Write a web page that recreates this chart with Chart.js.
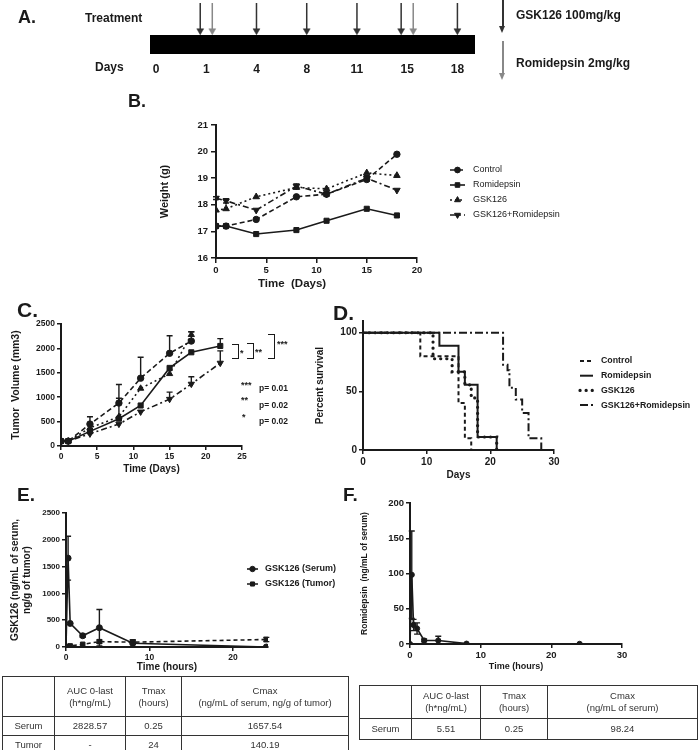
<!DOCTYPE html>
<html>
<head>
<meta charset="utf-8">
<script src="https://cdn.jsdelivr.net/npm/chart.js@4.4.1/dist/chart.umd.min.js"></script>
<style>
  body { margin: 0; background: #fff; }
  #page { position: relative; width: 700px; height: 750px; overflow: hidden; background: #fff;
          font-family: 'Liberation Sans', Arial, sans-serif; color: #1a1a1a; }
  canvas { position: absolute; left: 0; top: 0; }
  .t { position: absolute; font-weight: bold; white-space: pre; line-height: 1; }
  .br { position: absolute; border: 1.5px solid #1a1a1a; border-left: none; }
  .stem { position: absolute; width: 1.6px; }
  .head { position: absolute; width: 0; height: 0; border-left: 3.5px solid transparent; border-right: 3.5px solid transparent; }
  table { position: absolute; border-collapse: collapse; table-layout: fixed; font-size: 9.5px; color: #333; }
  td { border: 1px solid #333; text-align: center; padding: 0; line-height: 12px; }
</style>
</head>
<body>
<div id="page">
  <canvas id="cA" width="700" height="750"></canvas>
  <canvas id="cB" width="700" height="750"></canvas>
  <canvas id="cC" width="700" height="750"></canvas>
  <canvas id="cD" width="700" height="750"></canvas>
  <canvas id="cE" width="700" height="750"></canvas>
  <canvas id="cF" width="700" height="750"></canvas>

  <!-- panel A text -->
  <div class="t" style="left:18px;top:8px;font-size:18px">A.</div>
  <div class="t" style="left:85px;top:12px;font-size:12px">Treatment</div>
  <div class="t" style="left:95px;top:61px;font-size:12px">Days</div>
  <div class="stem" style="left:502px;top:0;height:27px;background:#333"></div>
  <div class="head" style="left:499px;top:26px;border-top:7px solid #333"></div>
  <div class="t" style="left:516px;top:9px;font-size:12px">GSK126 100mg/kg</div>
  <div class="stem" style="left:502px;top:41px;height:33px;background:#888"></div>
  <div class="head" style="left:499px;top:73px;border-top:7px solid #888"></div>
  <div class="t" style="left:516px;top:57px;font-size:12px">Romidepsin 2mg/kg</div>

  <!-- panel letters -->
  <div class="t" style="left:128px;top:92px;font-size:18px">B.</div>
  <div class="t" style="left:258px;top:278px;font-size:11.5px">Time  (Days)</div>
  <div class="t" style="left:17px;top:299px;font-size:21px">C.</div>
  <div class="t" style="left:333px;top:302px;font-size:21px">D.</div>
  <div class="t" style="left:17px;top:485px;font-size:19px">E.</div>
  <div class="t" style="left:343px;top:485px;font-size:19px">F.</div>

  <!-- panel C significance -->
  <div class="br" style="left:232px;top:344px;width:6px;height:13px"></div>
  <div class="t" style="left:240px;top:349px;font-size:9px">*</div>
  <div class="br" style="left:247px;top:343px;width:6px;height:14px"></div>
  <div class="t" style="left:255px;top:348px;font-size:9px">**</div>
  <div class="br" style="left:268px;top:334px;width:6px;height:23px"></div>
  <div class="t" style="left:277px;top:340px;font-size:9px">***</div>
  <div class="t" style="left:241px;top:381px;font-size:9px">***</div>
  <div class="t" style="left:259px;top:384px;font-size:8.5px">p= 0.01</div>
  <div class="t" style="left:241px;top:396px;font-size:9px">**</div>
  <div class="t" style="left:259px;top:401px;font-size:8.5px">p= 0.02</div>
  <div class="t" style="left:242px;top:413px;font-size:9px">*</div>
  <div class="t" style="left:259px;top:417px;font-size:8.5px">p= 0.02</div>

  <!-- PK tables -->
  <table style="left:2px;top:676px;width:346px">
    <col style="width:52px"><col style="width:71px"><col style="width:56px"><col style="width:167px">
    <tr style="height:40px"><td></td><td>AUC  0-last<br>(h*ng/mL)</td><td>Tmax<br>(hours)</td><td>Cmax<br>(ng/mL of serum, ng/g of tumor)</td></tr>
    <tr style="height:19px"><td>Serum</td><td>2828.57</td><td>0.25</td><td>1657.54</td></tr>
    <tr style="height:19px"><td>Tumor</td><td>-</td><td>24</td><td>140.19</td></tr>
  </table>
  <table style="left:359px;top:685px;width:338px">
    <col style="width:52px"><col style="width:69px"><col style="width:67px"><col style="width:150px">
    <tr style="height:33px"><td></td><td>AUC  0-last<br>(h*ng/mL)</td><td>Tmax<br>(hours)</td><td>Cmax<br>(ng/mL of serum)</td></tr>
    <tr style="height:21px"><td>Serum</td><td>5.51</td><td>0.25</td><td>98.24</td></tr>
  </table>
</div>

<script>
// ---------- data ----------
// A: dosing schedule
const schedDays = ['0', '1', '4', '8', '11', '15', '18'];
const gskDoseDays = ['1', '4', '8', '11', '15', '18'];
const romiDoseDays = ['1', '15'];

// B: body weight (g)
const wDays = [0, 1, 4, 8, 11, 15, 18];
const wControl = [17.2, 17.2, 17.45, 18.3, 18.4, 18.95, 19.9];
const wRomi = [17.2, 17.2, 16.9, 17.05, 17.4, 17.85, 17.6];
const wGsk = [17.8, 17.85, 18.3, 18.65, 18.6, 19.2, 19.1];
const wCombo = [18.25, 18.15, 17.8, 18.7, 18.4, 19.0, 18.55];
const wComboErr = [0.05, 0.08, 0, 0.08, 0.08, 0.1, 0];

// C: tumour volume (mm3)
const tDays = [0, 1, 4, 8, 11, 15, 18, 22];
const tControl = [100, 100, 450, 880, 1390, 1900, 2150];
const tControlErr = [0, 0, 150, 380, 430, 360, 190];
const tRomi = [100, 100, 300, 560, 830, 1600, 1920, 2050];
const tRomiErr = [0, 0, 50, 420, 0, 0, 0, 150];
const tGsk = [100, 100, 370, 600, 1180, 1480, 2280];
const tGskErr = [0, 0, 80, 0, 0, 0, 60];
const tCombo = [100, 100, 250, 450, 700, 960, 1270, 1700];
const tComboErr = [0, 0, 0, 0, 0, 145, 150, 250];

// D: percent survival (Kaplan-Meier steps)
const sControlDays = [0, 9, 15, 16, 17];
const sControl = [100, 80, 40, 10, 0];
const sRomiDays = [0, 12, 15, 16, 18, 21];
const sRomi = [100, 88.9, 66.7, 55.6, 11.1, 0];
const sGskDays = [0, 11, 14, 16, 17, 18, 21];
const sGsk = [100, 77.8, 66.7, 55.6, 44.4, 11.1, 0];
const sComboDays = [0, 22, 22.7, 23, 24, 25, 26, 28];
const sCombo = [100, 72.7, 68, 53, 43, 31.6, 10, 0];

// E: GSK126 PK
const eHours = [0, 0.25, 0.5, 2, 4, 8, 24];
const eSerum = [0, 1657.54, 440, 210, 360, 70, 0];
const eSerumErr = [0, 410, 0, 30, 340, 60, 0];
const eTumor = [0, 10, 20, 50, 100, 90, 140.19];
const eTumorErr = [0, 0, 0, 0, 30, 40, 40];

// F: romidepsin PK
const fHours = [0, 0.25, 0.5, 1, 2, 4, 8, 24];
const fRomi = [0, 98.24, 27, 22, 5, 5, 0.5, 0.2];
const fRomiErr = [0, 62, 8, 8, 2, 6, 0, 0];

// ---------- helpers ----------
const INK = '#1a1a1a';
Chart.defaults.font.family = "'Liberation Sans', Arial, sans-serif";
Chart.defaults.color = INK;

const xy = (xs, ys) => ys.map((y, i) => ({x: xs[i], y: y}));

// error bars drawn through the dataset's own y scale
const errorBars = {
  id: 'errorBars',
  afterDatasetsDraw(chart) {
    const ctx = chart.ctx;
    chart.data.datasets.forEach((d, i) => {
      if (!d.errors) return;
      const meta = chart.getDatasetMeta(i);
      const ys = chart.scales[meta.yAxisID];
      ctx.save();
      ctx.strokeStyle = INK;
      ctx.lineWidth = 1.4;
      ctx.setLineDash([]);
      meta.data.forEach((pt, j) => {
        const e = d.errors[j];
        if (!e) return;
        const v = d.data[j].y;
        const top = ys.getPixelForValue(v + e);
        const bot = d.both ? ys.getPixelForValue(Math.max(v - e, ys.min)) : pt.y;
        ctx.beginPath();
        ctx.moveTo(pt.x, top); ctx.lineTo(pt.x, bot);
        ctx.moveTo(pt.x - 3, top); ctx.lineTo(pt.x + 3, top);
        if (d.both) { ctx.moveTo(pt.x - 3, bot); ctx.lineTo(pt.x + 3, bot); }
        ctx.stroke();
      });
      ctx.restore();
    });
  }
};

// legend: short line sample in the dataset's dash, its marker, then the label
const lineLegend = {
  id: 'lineLegend',
  afterDraw(chart, args, o) {
    if (!o || !o.x) return;
    const ctx = chart.ctx;
    chart.data.datasets.forEach((d, i) => {
      const y = o.y + i * o.gap;
      ctx.save();
      ctx.strokeStyle = INK;
      ctx.lineWidth = d.borderWidth;
      ctx.lineCap = d.borderCapStyle || 'butt';
      ctx.setLineDash(d.borderDash || []);
      ctx.beginPath(); ctx.moveTo(o.x, y); ctx.lineTo(o.x + o.len, y); ctx.stroke();
      ctx.setLineDash([]);
      if (d.pointRadius) {
        ctx.fillStyle = INK;
        ctx.lineWidth = 1;
        Chart.helpers.drawPoint(ctx, {pointStyle: d.pointStyle, radius: d.pointRadius * 0.9,
          rotation: d.pointRotation || 0, borderWidth: 1}, o.x + o.len / 2, y);
      }
      ctx.fillStyle = INK;
      ctx.font = o.font;
      ctx.textBaseline = 'middle';
      ctx.fillText(d.label, o.x + o.len + o.pad, y);
      ctx.restore();
    });
  }
};

function ds(label, data, style, r, dash, extra) {
  return Object.assign({
    label: label, data: data, pointStyle: style, pointRadius: r, borderDash: dash,
    borderColor: INK, backgroundColor: INK, pointBackgroundColor: INK, pointBorderColor: INK,
    pointBorderWidth: 1, borderWidth: 1.6, tension: 0, fill: false
  }, extra || {});
}

// area = [left, top, right, bottom] of the plot box in page pixels
function frame(area, yTitleX, yTitleSize, xTitleY, xTitleSize) {
  const padLeft = yTitleX - yTitleSize * 0.6;
  const W = area[0] - padLeft;
  const H = xTitleY + xTitleSize * 0.6 - area[3];
  return {
    pad: {left: padLeft, top: area[1], right: 700 - area[2], bottom: 750 - area[3] - H},
    W: W, H: H
  };
}

function scale(o) {
  return {
    type: 'linear', min: o.min, max: o.max,
    border: {display: true, color: INK, width: 2},
    grid: {drawOnChartArea: false, drawTicks: true, tickLength: o.tl || 4, color: INK, lineWidth: 1.5},
    ticks: {stepSize: o.step, includeBounds: false, padding: o.tp || 2, color: INK,
            font: {size: o.ts || 9, weight: 'bold'}, callback: v => String(v)},
    title: o.title ? {display: true, text: o.title, color: INK, padding: 0,
                      font: {size: o.fs, weight: 'bold'}} : {display: false},
    afterFit: o.fit
  };
}

function opts(f, xs, ys, legend) {
  return {
    responsive: false, animation: false, devicePixelRatio: 1,
    layout: {autoPadding: false, padding: f.pad},
    plugins: {legend: {display: false}, tooltip: {enabled: false}, lineLegend: legend || {}},
    scales: {
      x: scale(Object.assign({fit: s => { s.height = f.H; }}, xs)),
      y: scale(Object.assign({fit: s => { s.width = f.W; }}, ys))
    }
  };
}

// ---------- A: schedule ----------
(function () {
  const idx = d => schedDays.indexOf(d);
  const both = d => gskDoseDays.includes(d) && romiDoseDays.includes(d);
  const arrow = (x, color) => ({
    type: 'line', data: [{x: x, y: 9.45}, {x: x, y: 4.3}],
    borderColor: color, borderWidth: 1.5, pointRadius: [0, 4], pointStyle: 'triangle', pointRotation: 180,
    pointBackgroundColor: color, pointBorderColor: color, pointBorderWidth: 0.5
  });
  const xmin = -0.12, xmax = 6.35;
  new Chart(document.getElementById('cA'), {
    type: 'line',
    data: {datasets: [
      {data: [{x: xmin, y: 3.5}, {x: xmax, y: 3.5}], fill: 'origin', backgroundColor: '#000',
       borderColor: '#000', borderWidth: 0, pointRadius: 0},
      ...gskDoseDays.map(d => arrow(idx(d) - (both(d) ? 0.12 : 0), '#333')),
      ...romiDoseDays.map(d => arrow(idx(d) + 0.12, '#888'))
    ]},
    options: {
      responsive: false, animation: false, devicePixelRatio: 1,
      layout: {autoPadding: false, padding: {left: 150, top: 0, right: 225, bottom: 750 - 54 - 25}},
      plugins: {legend: {display: false}, tooltip: {enabled: false}},
      scales: {
        x: {type: 'linear', min: xmin, max: xmax, border: {display: false},
            grid: {display: false, drawTicks: false},
            afterBuildTicks: s => { s.ticks = schedDays.map((d, i) => ({value: i})); },
            ticks: {padding: 8, color: INK, font: {size: 12, weight: 'bold'},
                    callback: v => schedDays[v]},
            afterFit: s => { s.height = 25; }},
        y: {type: 'linear', min: 0, max: 10, display: false}
      }
    }
  });
})();

// ---------- B: weight ----------
const fB = frame([216, 125, 417, 258], 165, 11, 280, 10);
new Chart(document.getElementById('cB'), {
  type: 'line',
  data: {datasets: [
    ds('Control', xy(wDays, wControl), 'circle', 3.2, [5, 3]),
    ds('Romidepsin', xy(wDays, wRomi), 'rect', 3.6, []),
    ds('GSK126', xy(wDays, wGsk), 'triangle', 3.8, [2, 3]),
    ds('GSK126+Romidepsin', xy(wDays, wCombo), 'triangle', 3.8, [6, 3, 2, 3],
       {pointRotation: 180, errors: wComboErr, both: true})
  ]},
  options: opts(fB,
    {min: 0, max: 20, step: 5, ts: 9.5, tl: 5, tp: 2},
    {min: 16, max: 21, step: 1, ts: 9.5, tl: 5, tp: 3, title: 'Weight (g)', fs: 11},
    {x: 450, y: 170, gap: 15, len: 15, pad: 8, font: '9px "Liberation Sans", Arial, sans-serif'}),
  plugins: [errorBars, lineLegend]
});

// ---------- C: tumour volume ----------
const fC = frame([61, 324, 242, 446], 16, 10.5, 469, 10);
new Chart(document.getElementById('cC'), {
  type: 'line',
  data: {datasets: [
    ds('Control', xy(tDays, tControl), 'circle', 3.2, [5, 3], {errors: tControlErr}),
    ds('Romidepsin', xy(tDays, tRomi), 'rect', 3.6, [], {errors: tRomiErr}),
    ds('GSK126', xy(tDays, tGsk), 'triangle', 3.6, [2, 3], {errors: tGskErr}),
    ds('GSK126+Romidepsin', xy(tDays, tCombo), 'triangle', 3.6, [6, 3, 2, 3],
       {pointRotation: 180, errors: tComboErr})
  ]},
  options: opts(fC,
    {min: 0, max: 25, step: 5, ts: 8.5, title: 'Time (Days)', fs: 10},
    {min: 0, max: 2500, step: 500, ts: 8.5, title: 'Tumor  Volume (mm3)', fs: 10.5}),
  plugins: [errorBars]
});

// ---------- D: survival ----------
const fD = frame([363, 321, 554, 450], 320, 10, 475, 10);
const km = (label, xs, ys, dash, extra) => Object.assign(
  ds(label, xy(xs, ys), 'circle', 0, dash, {stepped: 'before', borderWidth: 2}), extra || {});
new Chart(document.getElementById('cD'), {
  type: 'line',
  data: {datasets: [
    km('Control', sControlDays, sControl, [4, 3]),
    km('Romidepsin', sRomiDays, sRomi, []),
    km('GSK126', sGskDays, sGsk, [0.1, 6], {borderWidth: 3.2, borderCapStyle: 'round'}),
    km('GSK126+Romidepsin', sComboDays, sCombo, [8, 3, 2, 3])
  ]},
  options: opts(fD,
    {min: 0, max: 30, step: 10, ts: 10, title: 'Days', fs: 10},
    {min: 0, max: 110, step: 50, ts: 10, title: 'Percent survival', fs: 10},
    {x: 580, y: 361, gap: 14.7, len: 13, pad: 8, font: 'bold 8.8px "Liberation Sans", Arial, sans-serif'}),
  plugins: [lineLegend]
});

// ---------- E: GSK126 PK ----------
const fE = frame([66, 513, 268, 647], 15, 10, 667, 10);
new Chart(document.getElementById('cE'), {
  type: 'line',
  data: {datasets: [
    ds('GSK126 (Serum)', xy(eHours, eSerum), 'circle', 3, [], {errors: eSerumErr, both: true}),
    ds('GSK126 (Tumor)', xy(eHours, eTumor), 'rect', 3.2, [4, 3], {errors: eTumorErr, both: true})
  ]},
  options: opts(fE,
    {min: 0, max: 24.2, step: 10, ts: 8.5, title: 'Time (hours)', fs: 10},
    {min: 0, max: 2500, step: 500, ts: 8, title: ['GSK126 (ng/mL of serum,', 'ng/g of tumor)'], fs: 10},
    {x: 247, y: 569, gap: 15, len: 11, pad: 7, font: 'bold 9px "Liberation Sans", Arial, sans-serif'}),
  plugins: [errorBars, lineLegend]
});

// ---------- F: romidepsin PK ----------
const fF = frame([410, 503, 622, 644], 365, 8.5, 667, 9);
new Chart(document.getElementById('cF'), {
  type: 'line',
  data: {datasets: [
    ds('Romidepsin (Serum)', xy(fHours, fRomi), 'circle', 2.6, [], {errors: fRomiErr, both: true})
  ]},
  options: opts(fF,
    {min: 0, max: 30, step: 10, ts: 9.5, title: 'Time (hours)', fs: 9},
    {min: 0, max: 200, step: 50, ts: 9.5, title: 'Romidepsin  (ng/mL of serum)', fs: 8.5}),
  plugins: [errorBars]
});
</script>
</body>
</html>
